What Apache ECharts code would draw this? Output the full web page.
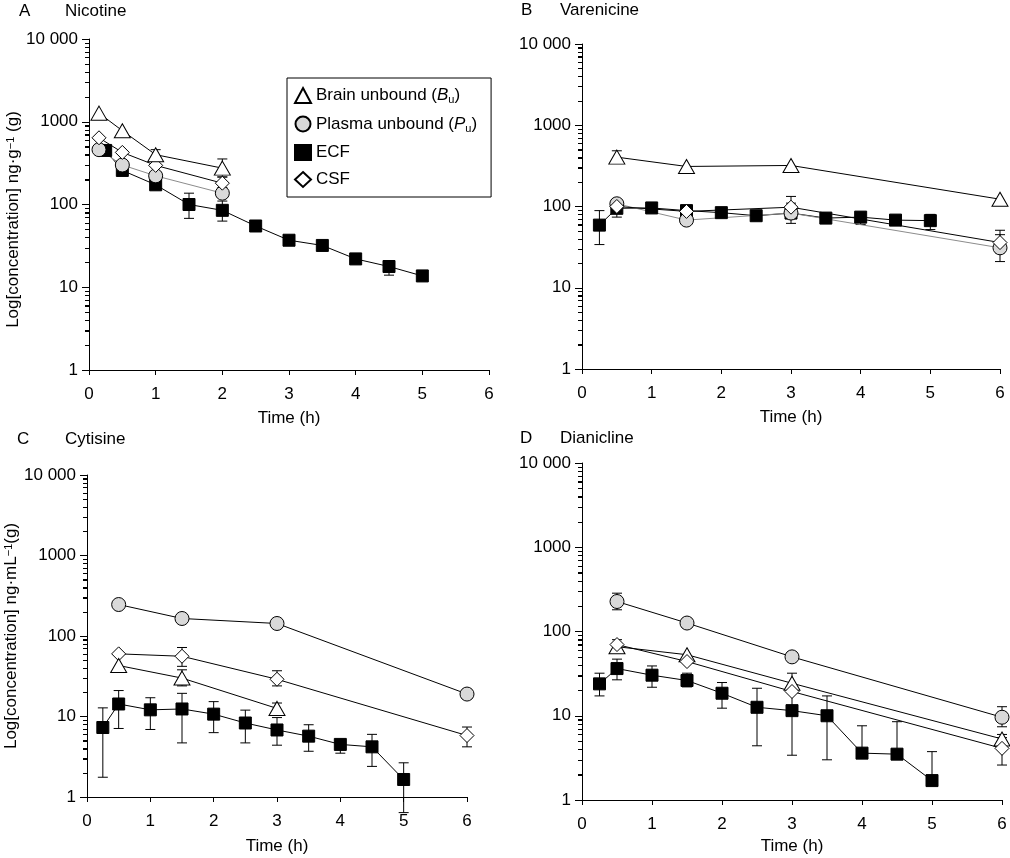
<!DOCTYPE html>
<html>
<head>
<meta charset="utf-8">
<script src="https://cdn.jsdelivr.net/npm/echarts@6/dist/echarts.min.js"></script>
<style>
  html, body { margin: 0; padding: 0; background: #fff; }
  #main { width: 1010px; height: 858px; }
</style>
</head>
<body>
<div id="main"></div>
<script>
// sampling times (h)
var tNicEarly = [0.15, 0.5, 1, 2];
var tSparse = [0.5, 1.5, 3, 6];
var tCytBu = [0.5, 1.5, 3];
var tEcf = [0.25, 0.5, 1, 1.5, 2, 2.5, 3, 3.5, 4, 4.5, 5];

// A  Nicotine
var nicBu = [1270, 780, 400, 275];
var nicPu = [460, 300, 222, 137];
var nicCsf = [640, 426, 297, 181];
var nicEcf = [450, 258, 173, 100, 85, 55, 37, 32, 22, 17.8, 13.7];
var nicBuErr = [[1, 350, 460], [2, 215, 355]];
var nicCsfErr = [[2, 160, 215]];
var nicEcfErr = [[1.5, 68, 137], [2, 63, 110], [4.5, 14, 21]];

// B  Varenicine
var varBu = [405, 311, 320, 123];
var varPu = [108, 68, 83, 31];
var varCsf = [100, 87, 98, 36];
var varEcf = [59, 95, 96, 89, 84, 77, 83, 72, 74, 68, 67];
var varBuErr = [[0.5, 340, 485]];
var varPuErr = [[3, 62, 110], [6, 21, 45]];
var varCsfErr = [[3, 75, 133], [6, 27, 51]];
var varEcfErr = [[0.25, 34, 89], [0.5, 74, 115], [4, 60, 85], [5, 52, 80]];

// C  Cytisine
var cytBu = [43, 30, 12.6];
var cytPu = [246, 165, 143, 19];
var cytCsf = [60, 56, 29, 5.8];
var cytEcf = [7.3, 14.3, 12.1, 12.4, 10.7, 8.3, 6.8, 5.7, 4.5, 4.2, 1.65];
var cytBuErr = [[1.5, 24, 38], [3, 11, 14.7]];
var cytCsfErr = [[1.5, 42, 72], [3, 24, 37], [6, 4.2, 7.4]];
var cytEcfLo = [1.76, 7.1, 6.9, 4.7, 6.3, 4.7, 4.4, 3.7, 3.5, 2.4, 0.64];
var cytEcfHi = [12.8, 21, 17.1, 19.4, 15.3, 12, 9.7, 7.9, 5.0, 6.0, 2.66];

// D  Dianicline
var dianBu = [66, 53, 24.3, 5.3];
var dianPu = [227, 126, 50, 9.6];
var dianCsf = [70, 44, 19.4, 4.1];
var dianEcf = [23.9, 36.3, 30.3, 26.2, 18.5, 12.6, 11.5, 10, 3.6, 3.5, 1.7];
var dianBuErr = [[0.5, 58, 80], [3, 19, 32], [6, 4.5, 6.0]];
var dianPuErr = [[0.5, 181, 285], [6, 7.4, 12.8]];
var dianCsfErr = [[6, 2.6, 5.5]];
var dianEcfLo = [17.2, 26.7, 21.8, 22, 12.3, 4.4, 3.4, 3.0, 3.6, 3.5, 1.7];
var dianEcfHi = [32, 47, 39, 32, 24.8, 21.2, 19.6, 17.2, 7.6, 8.5, 3.75];

// y-axis minor tick multipliers inside each decade
var minorSteps = [2, 3, 4, 5, 6, 7, 8, 9];
var decades = [1, 10, 100, 1000];

var FONT = 'Liberation Sans, Arial, sans-serif';
var chart = echarts.init(document.getElementById('main'));

var marks = {
  Bu:  { symbol: 'triangle', size: [16, 14], fill: '#fff' },
  Pu:  { symbol: 'circle', size: 14, fill: '#d9d9d9' },
  ECF: { symbol: 'rect', size: 12, fill: '#000' },
  CSF: { symbol: 'diamond', size: [14, 14], fill: '#fff' }
};

function pairs(t, v) {
  return t.map(function (x, i) { return [x, v[i]]; });
}
function triples(t, lo, hi) {
  return t.map(function (x, i) { return [x, lo[i], hi[i]]; });
}

function lineSeries(gi, name, t, v, lineColor) {
  var m = marks[name];
  return {
    type: 'line', name: name, xAxisIndex: gi, yAxisIndex: gi, z: 3,
    data: pairs(t, v),
    symbol: m.symbol, symbolSize: m.size, showSymbol: true,
    lineStyle: { color: lineColor || '#000', width: 1 },
    itemStyle: { color: m.fill, borderColor: '#000', borderWidth: 1 },
    emphasis: { disabled: true }
  };
}

function errRender(params, api) {
  var x = api.value(0), lo = api.value(1), hi = api.value(2);
  var top = api.coord([x, hi]);
  var bot = api.coord([x, lo]);
  var w = 5;
  var st = { stroke: '#000', lineWidth: 1 };
  return {
    type: 'group',
    children: [
      { type: 'line', shape: { x1: top[0], y1: top[1], x2: bot[0], y2: bot[1] }, style: st },
      { type: 'line', shape: { x1: top[0] - w, y1: top[1], x2: top[0] + w, y2: top[1] }, style: st },
      { type: 'line', shape: { x1: bot[0] - w, y1: bot[1], x2: bot[0] + w, y2: bot[1] }, style: st }
    ]
  };
}

function errSeries(gi, data) {
  return {
    type: 'custom', xAxisIndex: gi, yAxisIndex: gi, z: 1, clip: false, silent: true,
    renderItem: errRender, encode: { x: 0, y: [1, 2] }, data: data
  };
}

var grids = [
  { left: 89, top: 39, width: 400, height: 331 },
  { left: 582, top: 44, width: 418, height: 325 },
  { left: 87, top: 475, width: 380, height: 322 },
  { left: 582, top: 463, width: 420, height: 337 }
];
var nameGaps = [40, 40, 41, 38];

var xAxes = grids.map(function (g, i) {
  return {
    type: 'value', gridIndex: i, min: 0, max: 6, interval: 1,
    name: 'Time (h)', nameLocation: 'middle', nameGap: nameGaps[i],
    nameTextStyle: { fontSize: 17, color: '#000', fontFamily: FONT },
    axisLine: { onZero: false, lineStyle: { color: '#000', width: 1 } },
    axisTick: { length: 5, lineStyle: { color: '#000' } },
    axisLabel: { fontSize: 17, color: '#000', fontFamily: FONT, margin: 16 },
    splitLine: { show: false }
  };
});

var yNames = [
  '{n|Log[concentration] ng·g}{sup|\u22121}{n| (g)}',
  '',
  '{n|Log[concentration] ng·mL}{sup|\u22121}{n|(g)}',
  ''
];
var yAxes = grids.map(function (g, i) {
  return {
    type: 'log', gridIndex: i, min: 1, max: 10000,
    name: yNames[i], nameLocation: 'middle', nameGap: 59, nameRotate: 90,
    nameTextStyle: {
      padding: i === 0 ? [0, 30, 0, 0] : 0,
      rich: {
        n: { fontSize: 17, color: '#000', fontFamily: FONT },
        sup: { fontSize: 11, color: '#000', fontFamily: FONT, verticalAlign: 'top' }
      }
    },
    axisLine: { show: true, onZero: false, lineStyle: { color: '#000', width: 1 } },
    axisTick: { show: true, length: 7, lineStyle: { color: '#000' } },
    minorTick: { show: true, splitNumber: 9, length: 4, lineStyle: { color: '#000' } },
    axisLabel: {
      fontSize: 17, color: '#000', fontFamily: FONT, margin: 11,
      formatter: function (v) { return v === 10000 ? '10 000' : String(v); }
    },
    splitLine: { show: false }
  };
});

var series = [
  // A
  errSeries(0, nicBuErr), errSeries(0, nicCsfErr), errSeries(0, nicEcfErr),
  lineSeries(0, 'ECF', tEcf, nicEcf),
  lineSeries(0, 'Pu', tNicEarly, nicPu, '#8c8c8c'),
  lineSeries(0, 'CSF', tNicEarly, nicCsf),
  lineSeries(0, 'Bu', tNicEarly, nicBu),
  // B
  errSeries(1, varBuErr), errSeries(1, varPuErr), errSeries(1, varCsfErr), errSeries(1, varEcfErr),
  lineSeries(1, 'ECF', tEcf, varEcf),
  lineSeries(1, 'Pu', tSparse, varPu, '#8c8c8c'),
  lineSeries(1, 'CSF', tSparse, varCsf),
  lineSeries(1, 'Bu', tSparse, varBu),
  // C
  errSeries(2, cytBuErr), errSeries(2, cytCsfErr), errSeries(2, triples(tEcf, cytEcfLo, cytEcfHi)),
  lineSeries(2, 'ECF', tEcf, cytEcf),
  lineSeries(2, 'Pu', tSparse, cytPu),
  lineSeries(2, 'CSF', tSparse, cytCsf),
  lineSeries(2, 'Bu', tCytBu, cytBu),
  // D
  errSeries(3, dianBuErr), errSeries(3, dianPuErr), errSeries(3, dianCsfErr),
  errSeries(3, triples(tEcf, dianEcfLo, dianEcfHi)),
  lineSeries(3, 'ECF', tEcf, dianEcf),
  lineSeries(3, 'Pu', tSparse, dianPu),
  lineSeries(3, 'Bu', tSparse, dianBu),
  lineSeries(3, 'CSF', tSparse, dianCsf)
];

function panelTitle(text, left, top) {
  return { text: text, left: left, top: top, padding: 0,
           textStyle: { fontSize: 17, fontWeight: 'normal', color: '#000', fontFamily: FONT } };
}

var legendText = {
  Bu: '{n|Brain unbound (}{i|B}{s|u}{n|)}',
  Pu: '{n|Plasma unbound (}{i|P}{s|u}{n|)}',
  ECF: '{n|ECF}',
  CSF: '{n|CSF}'
};

chart.setOption({
  animation: false,
  backgroundColor: '#fff',
  title: [
    panelTitle('A', 19, 3), panelTitle('Nicotine', 65, 3),
    panelTitle('B', 521, 2), panelTitle('Varenicine', 560, 2),
    panelTitle('C', 17, 431), panelTitle('Cytisine', 65, 431),
    panelTitle('D', 520, 430), panelTitle('Dianicline', 560, 430)
  ],
  legend: {
    left: 287, top: 78, orient: 'vertical',
    borderColor: '#000', borderWidth: 1, padding: [9, 14, 9, 7],
    itemGap: 10, itemWidth: 16, itemHeight: 15, selectedMode: false,
    data: [
      { name: 'Bu', icon: 'triangle' },
      { name: 'Pu', icon: 'circle' },
      { name: 'ECF', icon: 'rect' },
      { name: 'CSF', icon: 'diamond' }
    ],
    formatter: function (name) { return legendText[name]; },
    textStyle: {
      rich: {
        n: { fontSize: 17, color: '#000', fontFamily: FONT, lineHeight: 20 },
        i: { fontSize: 17, color: '#000', fontFamily: FONT, fontStyle: 'italic', lineHeight: 20 },
        s: { fontSize: 11, color: '#000', fontFamily: FONT, verticalAlign: 'bottom', lineHeight: 11 }
      }
    }
  },
  grid: grids,
  xAxis: xAxes,
  yAxis: yAxes,
  series: series
});

// log minor ticks on every panel, placed through the panel's own axes,
// drawn on their own layer so nothing paints over them
var minorTicks = [];
grids.forEach(function (g, gi) {
  decades.forEach(function (d) {
    minorSteps.forEach(function (k) {
      var p = chart.convertToPixel({ xAxisIndex: gi, yAxisIndex: gi }, [0, k * d]);
      if (!p) p = chart.convertToPixel({ gridIndex: gi }, [0, k * d]);
      if (!p) return;
      minorTicks.push({
        type: 'rect', silent: true, z: 100, zlevel: 1,
        shape: { x: Math.round(p[0]) - 4, y: Math.round(p[1]), width: 4, height: 1 },
        style: { fill: '#000' }
      });
    });
  });
});
chart.setOption({ graphic: { elements: minorTicks } });
</script>
</body>
</html>
